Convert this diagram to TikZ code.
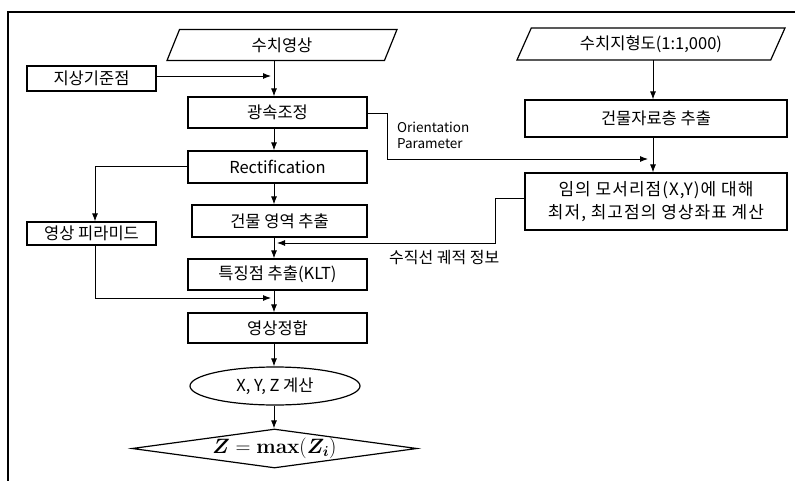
\documentclass[tikz,border=0pt]{standalone}
\usepackage{bm}
\usepackage[no-math]{fontspec}
\setmainfont{Noto Sans CJK KR}
\usetikzlibrary{shapes.geometric,arrows.meta}
\tikzset{
  every node/.style={inner sep=0pt, font=\fontsize{16.5}{20}\selectfont},
  box/.style={draw, line width=1.2pt, rectangle, align=center},
  para/.style={draw, line width=1.2pt, trapezium, trapezium left angle=50, trapezium right angle=130, trapezium stretches body},
  conn/.style={line width=0.9pt},
  arr/.style={conn, -{Latex[length=8pt,width=6pt]}},
  lbl/.style={align=left, font=\fontsize{13.5}{16}\selectfont}
}
\begin{document}
\begin{tikzpicture}[x=1pt,y=-1pt]
\useasboundingbox (0,0) rectangle (795,481);
% frame
\draw[line width=1.3pt] (8,481) -- (8,12) -- (795,12);
% left column
\node[para, minimum width=230pt, minimum height=31pt] (img) at (282,45) {수치영상};
\node[box, minimum width=129pt, minimum height=25pt] (gcp) at (91.5,78.5) {지상기준점};
\node[box, minimum width=179pt, minimum height=31pt] (ba) at (277.5,112.5) {광속조정};
\node[box, minimum width=179pt, minimum height=32pt] (rect) at (277.5,167) {Rectification};
\node[box, minimum width=129pt, minimum height=23pt] (pyr) at (91.5,233.5) {영상 피라미드};
\node[box, minimum width=175pt, minimum height=32pt] (bld) at (279.5,221) {건물 영역 추출};
\node[box, minimum width=179pt, minimum height=31pt] (klt) at (277.5,274.5) {특징점 추출(KLT)};
\node[box, minimum width=179pt, minimum height=30pt] (match) at (277.5,328) {영상정합};
\node[draw, line width=1.2pt, ellipse, minimum width=170pt, minimum height=38pt] (xyz) at (275,386) {X, Y, Z 계산};
\node[draw, line width=1.2pt, diamond, shape aspect=7.3, minimum width=285pt, minimum height=39pt, font=\fontsize{20}{24}\selectfont] (zmax) at (274.5,448.5) {$\bm{Z}=\mathbf{max}(\bm{Z}_{\bm{i}})$};
% right column
\node[para, minimum width=268pt, minimum height=32pt] (dem) at (651,44) {수치지형도(1:1,000)};
\node[box, minimum width=262pt, minimum height=37pt] (layer) at (656,118.5) {건물자료층 추출};
\node[box, minimum width=262pt, minimum height=57pt, font=\fontsize{17}{20}\selectfont\addfontfeatures{LetterSpace=6}] (corner) at (656,201.5) {임의 모서리점(X,Y)에 대해\\[3pt]최저, 최고점의 영상좌표 계산};
% helper coordinates
\coordinate (c1) at (274,61);
\coordinate (c2) at (653,60);
\coordinate (gcpend) at (271,76);
\coordinate (op1) at (387,113);
\coordinate (op2) at (387,159);
\coordinate (opend) at (648,159);
\coordinate (r1) at (95,166);
\coordinate (v1) at (495,198);
\coordinate (v2) at (495,243);
\coordinate (vend) at (277,243);
\coordinate (p1) at (95,298);
\coordinate (pend) at (271,298);
% connectors
\draw[arr] (c1) -- (c1 |- ba.north);
\draw[arr] (gcp.east |- gcpend) -- (gcpend);
\draw[arr] (ba.south -| c1) -- (rect.north -| c1);
\draw[arr] (ba.east |- op1) -- (op1) -- (op2) -- (opend);
\draw[arr] (rect.west |- r1) -- (r1) -- (r1 |- pyr.north);
\draw[arr] (rect.south -| c1) -- (bld.north -| c1);
\draw[arr] (bld.south -| c1) -- (klt.north -| c1);
\draw[arr] (corner.west |- v1) -- (v1) -- (v2) -- (vend);
\draw[arr] (pyr.south -| p1) -- (p1) -- (pend);
\draw[arr] (klt.south -| c1) -- (match.north -| c1);
\draw[arr] (match.south -| c1) -- (xyz.north -| c1);
\draw[arr] (xyz.south -| c1) -- (zmax.north -| c1);
\draw[arr] (c2) -- (layer.north -| c2);
\draw[arr] (layer.south -| c2) -- (corner.north -| c2);
% labels
\node[lbl, anchor=north west] (oplbl) at (397,122) {Orientation\\Parameter};
\node[anchor=north west, font=\fontsize{16}{19}\selectfont] (vlbl) at (389,250) {수직선 궤적 정보};
\end{tikzpicture}
\end{document}
